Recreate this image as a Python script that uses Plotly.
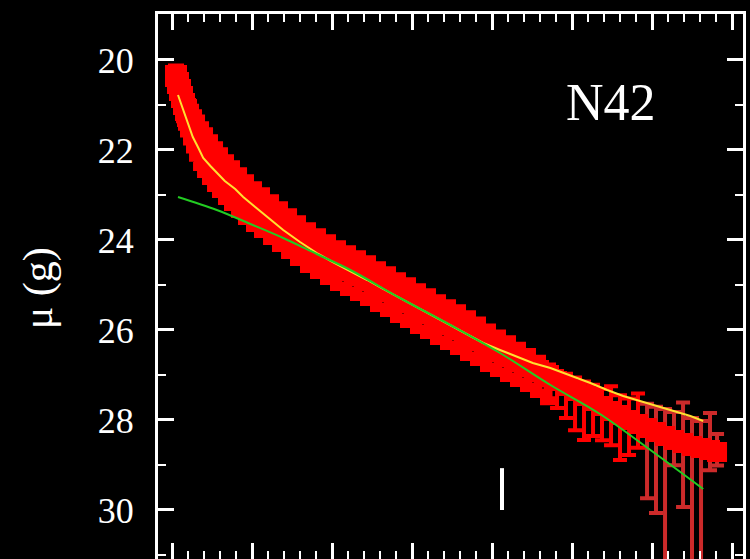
import plotly.graph_objects as go

# ---------------- data ----------------
# surface-brightness profile points (radius in plot units, mu(g) in mag)
prof_r = [1.05, 1.075, 1.1, 1.125, 1.15, 1.175, 1.2, 1.238, 1.275, 1.313,
          1.363, 1.413, 1.475, 1.538, 1.6, 1.675, 1.75, 1.838, 1.925, 2.025,
          2.125, 2.238, 2.35, 2.463, 2.575, 2.7, 2.825, 2.95, 3.075, 3.2,
          3.325, 3.45, 3.575, 3.7, 3.825, 3.95, 4.075, 4.2, 4.325, 4.45,
          4.575, 4.7, 4.825, 4.95, 5.075, 5.2, 5.325, 5.45, 5.575, 5.7,
          5.813, 5.925, 6.038, 6.15, 6.263, 6.375, 6.488, 6.6, 6.713, 6.825,
          6.938, 7.05, 7.163, 7.275, 7.388, 7.5, 7.613, 7.725, 7.813]
prof_mu = [20.356, 20.511, 20.667, 20.822, 20.978, 21.111, 21.244, 21.4, 21.556, 21.711,
           21.889, 22.044, 22.2, 22.356, 22.489, 22.644, 22.778, 22.933, 23.089, 23.244,
           23.378, 23.533, 23.689, 23.844, 24.0, 24.156, 24.289, 24.422, 24.556, 24.667,
           24.778, 24.889, 25.022, 25.133, 25.267, 25.378, 25.511, 25.622, 25.756, 25.867,
           25.978, 26.111, 26.222, 26.356, 26.467, 26.578, 26.689, 26.8, 26.911, 27.022,
           27.133, 27.244, 27.356, 27.467, 27.578, 27.689, 27.8, 27.889, 28.0, 28.089,
           28.178, 28.267, 28.356, 28.444, 28.511, 28.578, 28.622, 28.667, 28.711]
# error toward brighter (up) and fainter (down) magnitudes
err_up = [0.18, 0.2, 0.22, 0.24, 0.26, 0.28, 0.3, 0.33, 0.36, 0.4,
          0.43, 0.45, 0.45, 0.45, 0.45, 0.45, 0.45, 0.45, 0.45, 0.45,
          0.45, 0.45, 0.45, 0.45, 0.45, 0.45, 0.45, 0.45, 0.45, 0.45,
          0.45, 0.45, 0.45, 0.45, 0.45, 0.45, 0.45, 0.45, 0.45, 0.45,
          0.45, 0.45, 0.42, 0.4, 0.38, 0.36, 0.33, 0.3, 0.26, 0.2,
          0.22, 0.27, 0.3, 0.32, 0.36, 0.38, 0.55, 0.44, 0.48, 0.68,
          0.54, 0.56, 0.6, 0.62, 0.9, 0.62, 0.6, 0.82, 0.4]
err_dn = [0.22, 0.25, 0.28, 0.3, 0.33, 0.36, 0.38, 0.4, 0.42, 0.45,
          0.48, 0.48, 0.48, 0.48, 0.48, 0.48, 0.48, 0.48, 0.48, 0.48,
          0.48, 0.48, 0.48, 0.48, 0.48, 0.48, 0.48, 0.48, 0.48, 0.48,
          0.48, 0.48, 0.48, 0.48, 0.48, 0.48, 0.48, 0.48, 0.48, 0.48,
          0.48, 0.48, 0.48, 0.48, 0.48, 0.48, 0.48, 0.48, 0.5, 0.55,
          0.6, 0.71, 0.87, 0.98, 0.78, 0.76, 0.76, 1.0, 0.78, 0.53,
          1.56, 1.8, 3.0, 0.56, 1.42, 3.0, 3.0, 0.45, 0.3]
n_dense = 50    # inner, densely overlapping points
n_bright = 60   # beyond this index the long error bars look darker

# total model (yellow)
model_r = [1.075, 1.14, 1.2, 1.26, 1.33, 1.39, 1.48, 1.56, 1.66, 1.79,
           1.89, 2.04, 2.19, 2.39, 2.6, 2.81, 3.01, 3.23, 3.44, 3.64,
           3.85, 4.06, 4.26, 4.48, 4.69, 4.89, 5.1, 5.31, 5.51, 5.73,
           6.01, 6.23, 6.44, 6.64, 6.85, 7.06, 7.26, 7.48, 7.64]
model_mu = [20.778, 21.111, 21.422, 21.711, 21.956, 22.178, 22.356, 22.511, 22.689, 22.867,
            23.044, 23.267, 23.489, 23.778, 24.044, 24.289, 24.489, 24.689, 24.889, 25.089,
            25.289, 25.489, 25.689, 25.889, 26.089, 26.289, 26.444, 26.6, 26.733, 26.844,
            27.022, 27.178, 27.333, 27.467, 27.578, 27.689, 27.8, 27.911, 28.022]

# disk component (green)
disk_r = [1.075, 1.56, 1.98, 2.39, 2.81, 3.23, 3.85, 4.48, 5.1, 5.73, 6.35, 6.98, 7.64]
disk_mu = [23.044, 23.333, 23.644, 23.956, 24.311, 24.667, 25.289, 25.889, 26.511,
           27.222, 27.867, 28.667, 29.533]

# radius marker (white tick)
mark_r = [5.125, 5.125]
mark_mu = [29.07, 30.0]

label = "N42"
ytitle = "\u03bc (g)"
y_ticks = [20, 22, 24, 26, 28, 30]

# ---------------- figure ----------------
fig = go.Figure()


def add_points(i0, i1, bar_color, thick, capw, msize):
    fig.add_trace(go.Scatter(
        x=prof_r[i0:i1], y=prof_mu[i0:i1], mode="markers",
        marker=dict(symbol="square", size=msize, color="#ff0000", line=dict(width=0)),
        error_y=dict(type="data", symmetric=False, array=err_dn[i0:i1],
                     arrayminus=err_up[i0:i1], color=bar_color, thickness=thick, width=capw),
        showlegend=False, hoverinfo="skip"))


add_points(n_bright, len(prof_r), "#cc2a2a", 4, 7, 20)   # faint outer points
add_points(n_dense, n_bright, "#ff0000", 4, 7, 20)       # intermediate points
add_points(0, n_dense, "#ff0000", 9, 8, 22)              # inner dense points

fig.add_trace(go.Scatter(
    x=model_r, y=model_mu, mode="lines",
    line=dict(color="#ffe030", width=2), showlegend=False, hoverinfo="skip"))

fig.add_trace(go.Scatter(
    x=disk_r, y=disk_mu, mode="lines",
    line=dict(color="#22cc22", width=2, shape="spline"), showlegend=False, hoverinfo="skip"))

fig.add_trace(go.Scatter(
    x=mark_r, y=mark_mu, mode="lines",
    line=dict(color="#ffffff", width=4), showlegend=False, hoverinfo="skip"))

serif = "Liberation Serif, Times New Roman, serif"

fig.update_layout(
    width=750, height=559,
    margin=dict(l=158, r=7, t=14, b=0),
    paper_bgcolor="#000000", plot_bgcolor="#000000",
    font=dict(family=serif, color="#ffffff"),
    xaxis=dict(range=[0.825, 8.1375], showline=True, linecolor="#ffffff", linewidth=3,
               mirror="allticks", ticks="inside", ticklen=16, tickwidth=3, tickcolor="#ffffff",
               tick0=1, dtick=1, showticklabels=False, showgrid=False, zeroline=False,
               minor=dict(ticks="inside", ticklen=8, tickwidth=2, tickcolor="#ffffff",
                          dtick=0.2, tick0=1, showgrid=False)),
    yaxis=dict(range=[31.089, 18.978], showline=True, linecolor="#ffffff", linewidth=3,
               mirror="allticks", ticks="inside", ticklen=16, tickwidth=3, tickcolor="#ffffff",
               tickvals=y_ticks, ticktext=[str(v) for v in y_ticks],
               tickfont=dict(family=serif, size=36, color="#ffffff"),
               ticklabelstandoff=14,
               showgrid=False, zeroline=False,
               minor=dict(ticks="inside", ticklen=8, tickwidth=2, tickcolor="#ffffff",
                          dtick=1, tick0=19, showgrid=False)),
    annotations=[
        dict(text=label, xref="paper", yref="paper", x=0.774, y=0.8385,
             xanchor="center", yanchor="middle", showarrow=False,
             font=dict(family=serif, size=52, color="#ffffff")),
        dict(text=ytitle, xref="paper", yref="paper", x=-0.205, y=0.497,
             xanchor="center", yanchor="middle", showarrow=False, textangle=-90,
             font=dict(family=serif, size=42, color="#ffffff")),
    ],
)

fig.write_html("out.html")
